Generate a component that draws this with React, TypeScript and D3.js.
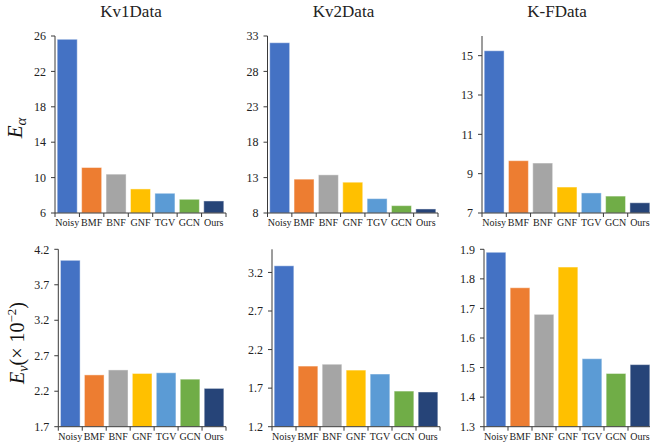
import React from "react";
import * as d3 from "d3";

const categories = ["Noisy", "BMF", "BNF", "GNF", "TGV", "GCN", "Ours"];
const colors = ["#4472C4", "#ED7D31", "#A5A5A5", "#FFC000", "#5B9BD5", "#70AD47", "#264478"];

const titles = ["Kv1Data", "Kv2Data", "K-FData"];

const kv1Ea = [25.63, 11.14, 10.39, 8.72, 8.23, 7.55, 7.36];
const kv2Ea = [32.05, 12.78, 13.39, 12.35, 10.03, 9.04, 8.57];
const kfEa = [15.25, 9.66, 9.54, 8.32, 8.02, 7.86, 7.52];
const kv1Ev = [4.045, 2.43, 2.5, 2.45, 2.46, 2.37, 2.24];
const kv2Ev = [3.286, 1.986, 2.01, 1.934, 1.883, 1.662, 1.65];
const kfEv = [1.89, 1.77, 1.68, 1.84, 1.53, 1.48, 1.51];

const kv1EaTicks = [6, 10, 14, 18, 22, 26];
const kv2EaTicks = [8, 13, 18, 23, 28, 33];
const kfEaTicks = [7, 9, 11, 13, 15];
const kv1EvTicks = [1.7, 2.2, 2.7, 3.2, 3.7, 4.2];
const kv2EvTicks = [1.2, 1.7, 2.2, 2.7, 3.2];
const kfEvTicks = [1.3, 1.4, 1.5, 1.6, 1.7, 1.8, 1.9];

const kv1EaDomain = [6, 26];
const kv2EaDomain = [8, 33];
const kfEaDomain = [7, 16];
const kv1EvDomain = [1.7, 4.2];
const kv2EvDomain = [1.2, 3.5];
const kfEvDomain = [1.3, 1.9];

type PanelProps = {
  values: number[];
  ticks: number[];
  domain: number[];
  x0: number;
  x1: number;
  yTop: number;
  yBottom: number;
};

const axisColor = "#3a3a3a";
const font = "Liberation Serif, Times New Roman, Tinos, DejaVu Serif, serif";

function Panel({ values, ticks, domain, x0, x1, yTop, yBottom }: PanelProps) {
  const x = d3.scaleBand<string>().domain(categories).range([x0, x1]).paddingInner(0.18).paddingOuter(0.09);
  const y = d3.scaleLinear().domain(domain).range([yBottom, yTop]);
  const step = x.step();
  const boundaries = d3.range(categories.length + 1).map((i) => x0 + i * step);
  return (
    <g>
      {values.map((v, i) => (
        <rect
          key={i}
          x={x(categories[i])}
          y={y(v)}
          width={x.bandwidth()}
          height={y(domain[0]) - y(v)}
          fill={colors[i]}
          stroke="rgba(255,255,255,0.45)"
          strokeWidth={1}
        />
      ))}
      <line x1={x0} x2={x0} y1={yTop} y2={yBottom} stroke={axisColor} strokeWidth={1} />
      <line x1={x0} x2={x1} y1={yBottom} y2={yBottom} stroke={axisColor} strokeWidth={1} />
      {ticks.map((t) => (
        <g key={t}>
          <line x1={x0 - 4} x2={x0} y1={y(t)} y2={y(t)} stroke={axisColor} strokeWidth={1} />
          <text x={x0 - 9} y={y(t)} dy="0.35em" textAnchor="end" fontSize={12} style={{ fontFamily: font }} fill="#222">
            {String(t)}
          </text>
        </g>
      ))}
      {boundaries.map((b, i) => (
        <line key={i} x1={b} x2={b} y1={yBottom} y2={yBottom + 4} stroke={axisColor} strokeWidth={1} />
      ))}
      {categories.map((c) => (
        <text
          key={c}
          x={(x(c) as number) + x.bandwidth() / 2}
          y={yBottom + 13}
          textAnchor="middle"
          fontSize={10}
          style={{ fontFamily: font }}
          fill="#222"
        >
          {c}
        </text>
      ))}
    </g>
  );
}

export default function App() {
  const topTop = 36;
  const topBottom = 213;
  const botTop = 249.3;
  const botBottom = 426.7;
  return (
    <svg
      width={650}
      height={446}
      style={{ position: "absolute", left: 0, top: 0, background: "#fff", fontFamily: font }}
    >
      <rect x={0} y={0} width={650} height={446} fill="#fff" />
      {titles.map((t, i) => (
        <text key={t} x={[131, 343.5, 557][i]} y={17} textAnchor="middle" fontSize={17} fill="#222" style={{ fontFamily: font }}>
          {t}
        </text>
      ))}
      <Panel values={kv1Ea} ticks={kv1EaTicks} domain={kv1EaDomain} x0={55} x1={226} yTop={topTop} yBottom={topBottom} />
      <Panel values={kv2Ea} ticks={kv2EaTicks} domain={kv2EaDomain} x0={267.5} x1={438} yTop={topTop} yBottom={topBottom} />
      <Panel values={kfEa} ticks={kfEaTicks} domain={kfEaDomain} x0={482} x1={652} yTop={topTop} yBottom={topBottom} />
      <Panel values={kv1Ev} ticks={kv1EvTicks} domain={kv1EvDomain} x0={58.3} x1={226} yTop={botTop} yBottom={botBottom} />
      <Panel values={kv2Ev} ticks={kv2EvTicks} domain={kv2EvDomain} x0={272} x1={440} yTop={botTop} yBottom={botBottom} />
      <Panel values={kfEv} ticks={kfEvTicks} domain={kfEvDomain} x0={484} x1={652} yTop={botTop} yBottom={botBottom} />
      <text transform="translate(22,128) rotate(-90)" textAnchor="middle" fontSize={21} fontStyle="italic" fill="#111" style={{ fontFamily: font }}>
        E<tspan fontSize={15} dy={4}>α</tspan>
      </text>
      <text transform="translate(24,343) rotate(-90)" textAnchor="middle" fontSize={20} fill="#111" style={{ fontFamily: font }}>
        <tspan fontStyle="italic">E</tspan>
        <tspan fontSize={14} fontStyle="italic" dy={4}>v</tspan>
        <tspan dy={-4}>(× 10</tspan>
        <tspan fontSize={13} dy={-8}>−2</tspan>
        <tspan dy={8}>)</tspan>
      </text>
    </svg>
  );
}
